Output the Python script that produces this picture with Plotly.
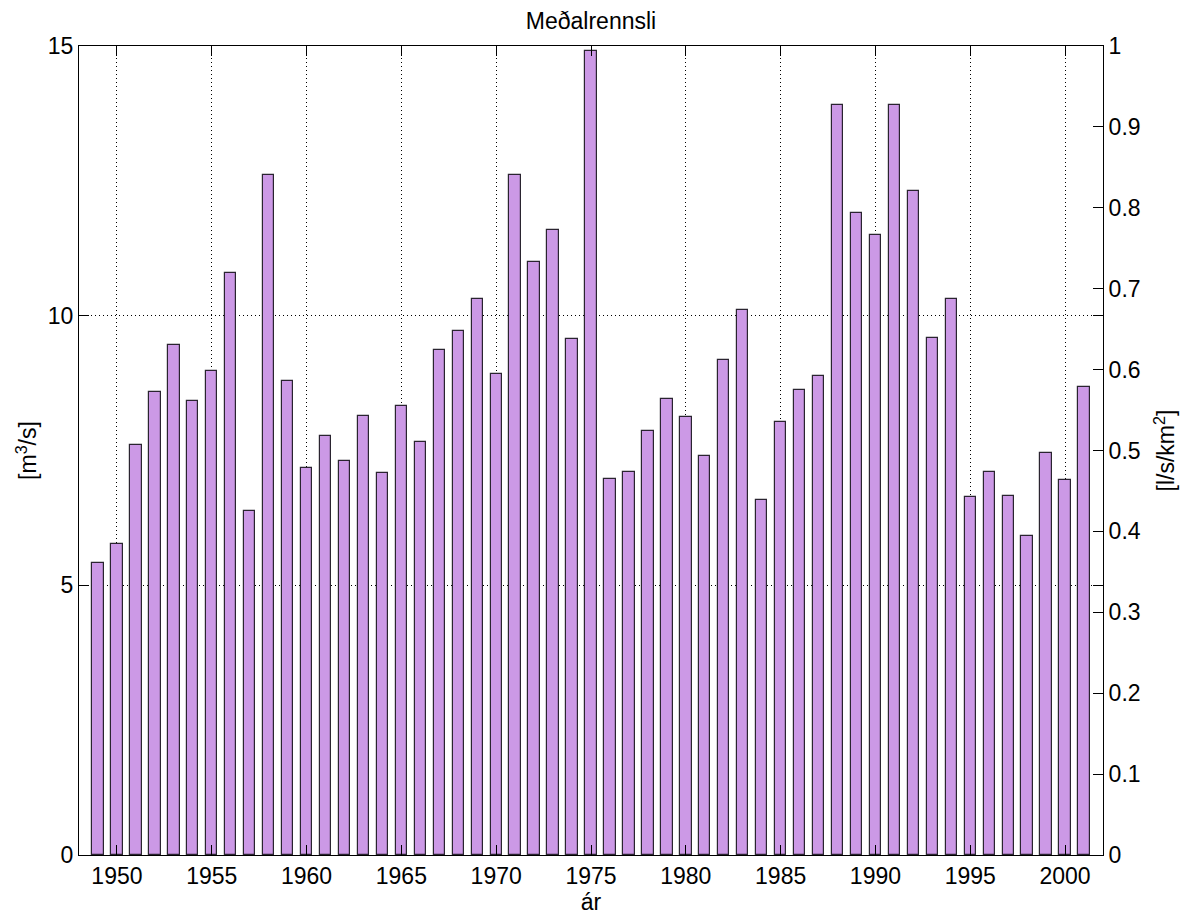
import plotly.graph_objects as go

# Annual mean discharge, 1949-2001
years = list(range(1949, 2002))
flow_m3s = [
    5.42, 5.77, 7.61, 8.59, 9.45, 8.41, 8.98, 10.80, 6.38, 12.60,
    8.79, 7.18, 7.77, 7.30, 8.14, 7.08, 8.33, 7.65, 9.37, 9.72,
    10.31, 8.92, 12.60, 11.00, 11.59, 9.57, 14.90, 6.97, 7.10, 7.87,
    8.45, 8.12, 7.40, 9.18, 10.10, 6.58, 8.02, 8.62, 8.89, 13.90,
    11.90, 11.50, 13.90, 12.31, 9.59, 10.31, 6.63, 7.10, 6.66, 5.91,
    7.46, 6.95, 8.67,
]

# Left axis: 0-15 m3/s, right axis: 0-1 l/s/km2 (same scale)
left_range = [0, 15]
right_range = [0, 1]
specific_flow = [v * right_range[1] / left_range[1] for v in flow_m3s]

x_ticks = list(range(1950, 2001, 5))
left_ticks = [0, 5, 10, 15]
right_ticks = [round(i * 0.1, 1) for i in range(11)]
right_tick_text = ["0"] + [f"{t:g}" for t in right_ticks[1:]]

FONT = "Liberation Sans, Arial, sans-serif"
FS = 23

fig = go.Figure()
fig.add_trace(go.Bar(
    x=years, y=flow_m3s, width=0.6,
    marker=dict(color="#cc99e6", line=dict(color="#2a2430", width=1.2)),
    showlegend=False, hoverinfo="x+y",
))
fig.add_trace(go.Scatter(
    x=years, y=specific_flow, yaxis="y2", mode="none",
    showlegend=False, hoverinfo="skip",
))

grid_common = dict(showgrid=True, gridcolor="#000000", gridwidth=1, griddash="1px,3px")

fig.update_layout(
    width=1194, height=920,
    margin=dict(l=79, r=91, t=46, b=65),
    paper_bgcolor="white", plot_bgcolor="white",
    font=dict(family=FONT, size=FS, color="#000000"),
    bargap=0,
    title=dict(text="Meðalrennsli", x=0.495, xanchor="center", y=0.977, yanchor="middle",
               font=dict(family=FONT, size=FS, color="#000000")),
    xaxis=dict(
        range=[1948, 2002], tickvals=x_ticks, ticks="inside", ticklen=10,
        tickcolor="#000000", showline=True, linecolor="#000000", linewidth=1,
        mirror="ticks", zeroline=False, tickfont=dict(size=FS), automargin=False,
        title=dict(text="ár", standoff=6, font=dict(size=FS)),
        **grid_common,
    ),
    yaxis=dict(
        range=left_range, tickvals=left_ticks, ticks="inside", ticklen=10,
        tickcolor="#000000", showline=True, linecolor="#000000", linewidth=1,
        mirror="ticks", zeroline=False, tickfont=dict(size=FS), automargin=False,
        title=dict(text="[m<sup>3</sup>/s]", standoff=4, font=dict(size=FS)),
        **grid_common,
    ),
    yaxis2=dict(
        range=right_range, tickvals=right_ticks, ticktext=right_tick_text,
        overlaying="y", side="right", ticks="inside", ticklen=10,
        tickcolor="#000000", showline=True, linecolor="#000000", linewidth=1,
        showgrid=False, zeroline=False, tickfont=dict(size=FS), automargin=False,
        title=dict(text="[l/s/km<sup>2</sup>]", standoff=18, font=dict(size=FS)),
    ),
)

fig.write_html("out.html")
